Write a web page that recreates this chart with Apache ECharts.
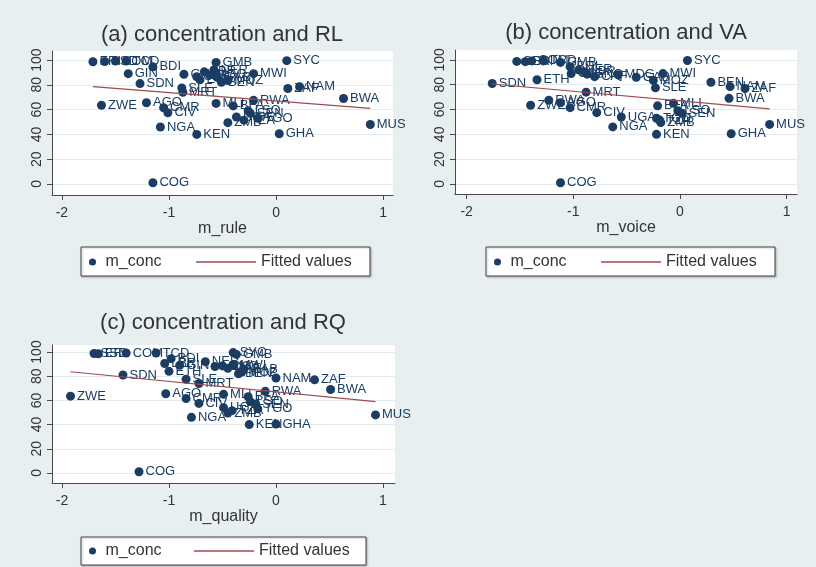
<!DOCTYPE html>
<html><head><meta charset="utf-8">
<script src="https://cdn.jsdelivr.net/npm/echarts@6/dist/echarts.min.js"></script>
<style>html,body{margin:0;padding:0;background:#e8eff1}#c{width:816px;height:567px}</style>
</head><body><div id="c"></div>
<script>
// ---- data ----
const countries = ['COG','SYC','GMB','ERI','SSD','COM','TCD','BDI','NER','LBR','GIN','MWI','GNQ','MDG','CAF','GAB','ETH','MOZ','BEN','SDN','NAM','ZAF','SLE','MRT','BWA','RWA','AGO','MLI','ZWE','BFA','CMR','LSO','CIV','SEN','UGA','TGO','TZA','ZMB','NGA','MUS','KEN','GHA'];
const conc    = [1, 99.5, 98, 98.6, 98.8, 99.2, 99.2, 94.5, 92, 90.5, 89, 89, 88.5, 88, 86.5, 86, 84, 83.5, 82, 81, 78.5, 77, 77.5, 74, 69, 67.5, 65.5, 65, 63.5, 63, 61.5, 59, 57.5, 57, 54, 53, 51.5, 49.5, 46, 48, 40, 40.5];
const rule    = [-1.15, 0.10, -0.56, -1.71, -1.60, -1.50, -1.40, -1.15, -0.58, -0.67, -1.38, -0.21, -0.86, -0.62, -0.74, -0.55, -0.71, -0.45, -0.51, -1.27, 0.22, 0.11, -0.88, -0.87, 0.63, -0.21, -1.21, -0.56, -1.63, -0.40, -1.05, -0.26, -1.01, -0.24, -0.37, -0.17, -0.30, -0.45, -1.08, 0.88, -0.74, 0.03];
const voice   = [-1.12, 0.07, -1.12, -1.45, -1.53, -1.39, -1.28, -1.03, -0.95, -0.90, -1.02, -0.16, -0.87, -0.58, -0.80, -0.41, -1.34, -0.25, 0.29, -1.76, 0.47, 0.61, -0.23, -0.88, 0.46, -1.23, -1.12, -0.06, -1.40, -0.21, -1.03, -0.02, -0.78, 0.02, -0.55, -0.22, -0.19, -0.18, -0.63, 0.84, -0.22, 0.48];
const quality = [-1.28, -0.40, -0.37, -1.66, -1.70, -1.40, -1.12, -0.98, -0.66, -1.04, -0.90, -0.40, -0.50, -0.57, -0.45, -0.30, -1.00, -0.32, -0.35, -1.43, 0.00, 0.36, -0.84, -0.72, 0.51, -0.10, -1.03, -0.49, -1.92, -0.26, -0.84, -0.24, -0.72, -0.19, -0.49, -0.17, -0.41, -0.45, -0.79, 0.93, -0.25, 0.00];
const fitRuleX = [-1.71, 0.88],  fitRuleY = [78.5, 61.0];
const fitVoiceX = [-1.76, 0.84], fitVoiceY = [80.6, 60.5];
const fitQualX = [-1.92, 0.93],  fitQualY = [83.7, 59.0];
const xTicks = [-2, -1, 0, 1];
const yTicks = [0, 20, 40, 60, 80, 100];
const titles = ['(a) concentration and RL', '(b) concentration and VA', '(c) concentration and RQ'];
const xNames = ['m_rule', 'm_voice', 'm_quality'];

// ---- style ----
const F = 'Liberation Sans, Arial, sans-serif';
const NAVY = '#1b3d63', MAROON = '#a04a4e', AX = '#4a4a4a', TXT = '#333333';

const panels = [
  {grid:{left:52, top:51, width:341, height:144}, x:[-2.092,1.092], y:[-8.9,107.3], xs:rule, fx:fitRuleX, fy:fitRuleY,
   title:{x:222, y:24}, leg:{box:[81,247,289,29], c:89, l:196, mid:262}},
  {grid:{left:455, top:50, width:342, height:144}, x:[-2.109,1.097], y:[-8.1,108], xs:voice, fx:fitVoiceX, fy:fitVoiceY,
   title:{x:626, y:22}, leg:{box:[486,247,289,29], c:494, l:601, mid:262}},
  {grid:{left:52, top:345, width:343, height:138}, x:[-2.093,1.112], y:[-8.3,105.8], xs:quality, fx:fitQualX, fy:fitQualY,
   title:{x:223, y:312}, leg:{box:[81,537,285,28], c:89, l:194, mid:551}}
];

const option = {backgroundColor:'#e8eff1', animation:false, grid:[], xAxis:[], yAxis:[], series:[], title:[], legend:[], graphic:[]};
panels.forEach((p, i) => {
  option.grid.push(Object.assign({show:true, backgroundColor:'#ffffff', borderWidth:0}, p.grid));
  option.xAxis.push({gridIndex:i, type:'value', min:p.x[0], max:p.x[1],
    name:xNames[i], nameLocation:'middle', nameGap:24,
    nameTextStyle:{fontSize:16, color:TXT, fontFamily:F},
    axisLine:{show:true, onZero:false, lineStyle:{color:AX, width:1}},
    axisTick:{show:true, length:5, customValues:xTicks, lineStyle:{color:AX}},
    axisLabel:{customValues:xTicks, fontSize:14, color:TXT, margin:11, fontFamily:F},
    splitLine:{show:false}});
  option.yAxis.push({gridIndex:i, type:'value', min:p.y[0], max:p.y[1],
    axisLine:{show:true, onZero:false, lineStyle:{color:AX, width:1}},
    axisTick:{show:true, length:5, customValues:yTicks, lineStyle:{color:AX}},
    axisLabel:{customValues:yTicks, rotate:90, fontSize:14, color:TXT, margin:8, fontFamily:F},
    splitLine:{show:true, lineStyle:{color:'#e3ebee', width:1}}});
  option.series.push({type:'scatter', name:'m_conc', xAxisIndex:i, yAxisIndex:i, symbolSize:9,
    itemStyle:{color:NAVY, opacity:1},
    label:{show:true, position:'right', distance:2, formatter:'{b}', fontSize:13, color:NAVY, fontFamily:F},
    data: countries.map((c, k) => ({name:c, value:[p.xs[k], conc[k]]}))});
  option.series.push({type:'line', name:'Fitted values', xAxisIndex:i, yAxisIndex:i, symbol:'none',
    itemStyle:{color:MAROON}, lineStyle:{color:MAROON, width:1.2}, z:3,
    data: p.fx.map((v, k) => [v, p.fy[k]])});
  option.title.push({text:titles[i], left:p.title.x, top:p.title.y, textAlign:'center', padding:0,
    textStyle:{fontSize:22, fontWeight:'normal', color:TXT, fontFamily:F}});
  option.legend.push({data:[{name:'m_conc', icon:'circle'}], left:p.leg.c, top:p.leg.mid-8, padding:0,
    itemWidth:16, itemHeight:7, selectedMode:false, textStyle:{fontSize:16, color:TXT, fontFamily:F}});
  option.legend.push({data:[{name:'Fitted values', icon:'rect', itemStyle:{color:MAROON}}], left:p.leg.l, top:p.leg.mid-8, padding:0,
    itemWidth:60, itemHeight:1.3, symbolKeepAspect:false, selectedMode:false, textStyle:{fontSize:16, color:TXT, fontFamily:F}});
  const b = p.leg.box;
  option.graphic.push({type:'rect', shape:{x:b[0], y:b[1], width:b[2], height:b[3]}, z:-1,
    style:{fill:'#ffffff', stroke:'#444444', lineWidth:1, shadowBlur:2, shadowOffsetX:1, shadowOffsetY:1, shadowColor:'rgba(0,0,0,0.25)'}});
});

const chart = echarts.init(document.getElementById('c'), null, {renderer:'canvas'});
chart.setOption(option);
</script>
</body></html>
